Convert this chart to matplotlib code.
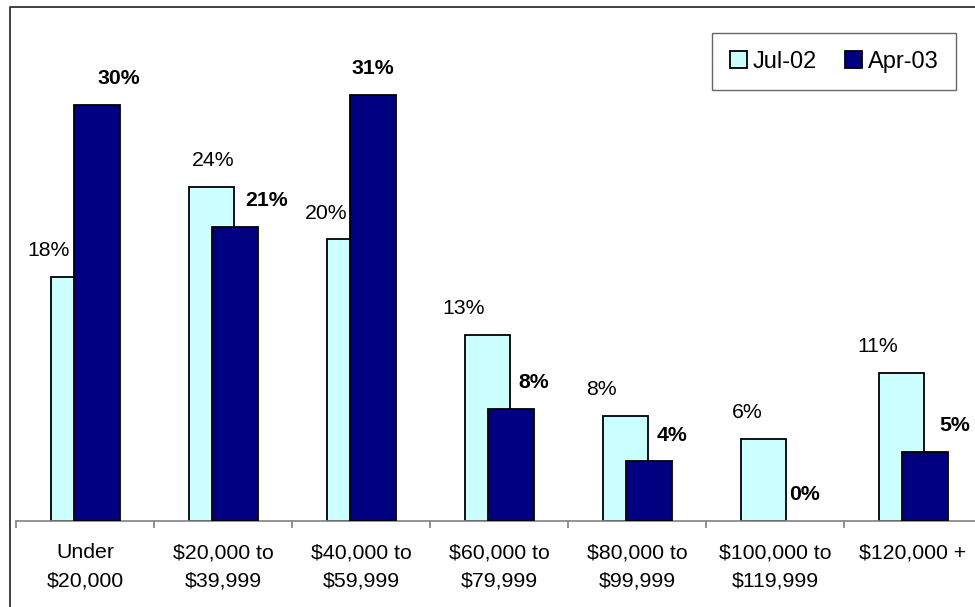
import numpy as np
import matplotlib

matplotlib.use("Agg")
import matplotlib.pyplot as plt  # noqa: E402
from matplotlib.lines import Line2D  # noqa: E402

plt.rcParams["font.family"] = ["Liberation Sans", "DejaVu Sans"]

categories = [
    "Under\n$20,000",
    "$20,000 to\n$39,999",
    "$40,000 to\n$59,999",
    "$60,000 to\n$79,999",
    "$80,000 to\n$99,999",
    "$100,000 to\n$119,999",
    "$120,000 +",
]
jul02 = [17.6, 24.1, 20.3, 13.4, 7.6, 5.9, 10.7]
apr03 = [30.0, 21.2, 30.7, 8.1, 4.3, 0.0, 5.0]

# horizontal nudges of the data labels (points), as placed in the original
jul_dx = [-18, 1, -17, -17, -17, -12, -17]
apr_dx = [16, 23, 0, 17, 17, 13, 22]

W, H = 975, 607
fig = plt.figure(figsize=(W / 100, H / 100), dpi=100)
ax = fig.add_axes([16 / W, (H - 521) / H, 966 / W, 485.5 / H])

x = np.arange(len(categories))
bw = 0.333
off = 0.0835
ax.bar(x - off, jul02, width=bw, color="#CCFFFF", edgecolor="black",
       linewidth=1.3, label="Jul-02", zorder=2)
bars = ax.bar(x + off, apr03, width=bw, color="#000080", edgecolor="black",
              linewidth=1.3, label="Apr-03", zorder=3)
for b, v in zip(bars, apr03):
    if v == 0:
        b.set_visible(False)

for i in range(len(categories)):
    ax.annotate(f"{round(jul02[i])}%", (x[i] - off, jul02[i]),
                xytext=(jul_dx[i], 15), textcoords="offset points",
                ha="center", va="baseline", fontsize=15.3)
    ax.annotate(f"{round(apr03[i])}%", (x[i] + off, apr03[i]),
                xytext=(apr_dx[i], 15), textcoords="offset points",
                ha="center", va="baseline", fontsize=15.3, fontweight="bold")

ax.set_xlim(-0.5, len(categories) - 0.5)
ax.set_ylim(0, 35)
ax.set_yticks([])
for s in ("left", "top", "right"):
    ax.spines[s].set_visible(False)
ax.spines["bottom"].set_color("#808080")
ax.spines["bottom"].set_linewidth(1.2)

ax.set_xticks(np.arange(len(categories) + 1) - 0.5)
ax.set_xticklabels([])
ax.tick_params(axis="x", which="major", length=5, color="#808080", width=1.2)
ax.set_xticks(x, minor=True)
ax.set_xticklabels(categories, minor=True, fontsize=15.3, linespacing=1.65)
ax.tick_params(axis="x", which="minor", length=0, pad=16)

leg = fig.legend(loc="upper right", bbox_to_anchor=(956 / W, 1 - 33 / H),
                 ncol=2, fontsize=17, frameon=True, fancybox=False,
                 handlelength=0.7, handleheight=0.7, handletextpad=0.25,
                 columnspacing=1.2, borderpad=0.75, borderaxespad=0)
leg.get_frame().set_edgecolor("#404040")
leg.get_frame().set_linewidth(1.0)

# outer chart border (runs off the right and bottom of the picture)
fig.add_artist(Line2D([10 / W, 10 / W, 1.05], [-0.05, 1 - 7 / H, 1 - 7 / H],
                      transform=fig.transFigure, color="#333333", linewidth=1.3))

fig.savefig("out.png", dpi=100)
plt.close(fig)
